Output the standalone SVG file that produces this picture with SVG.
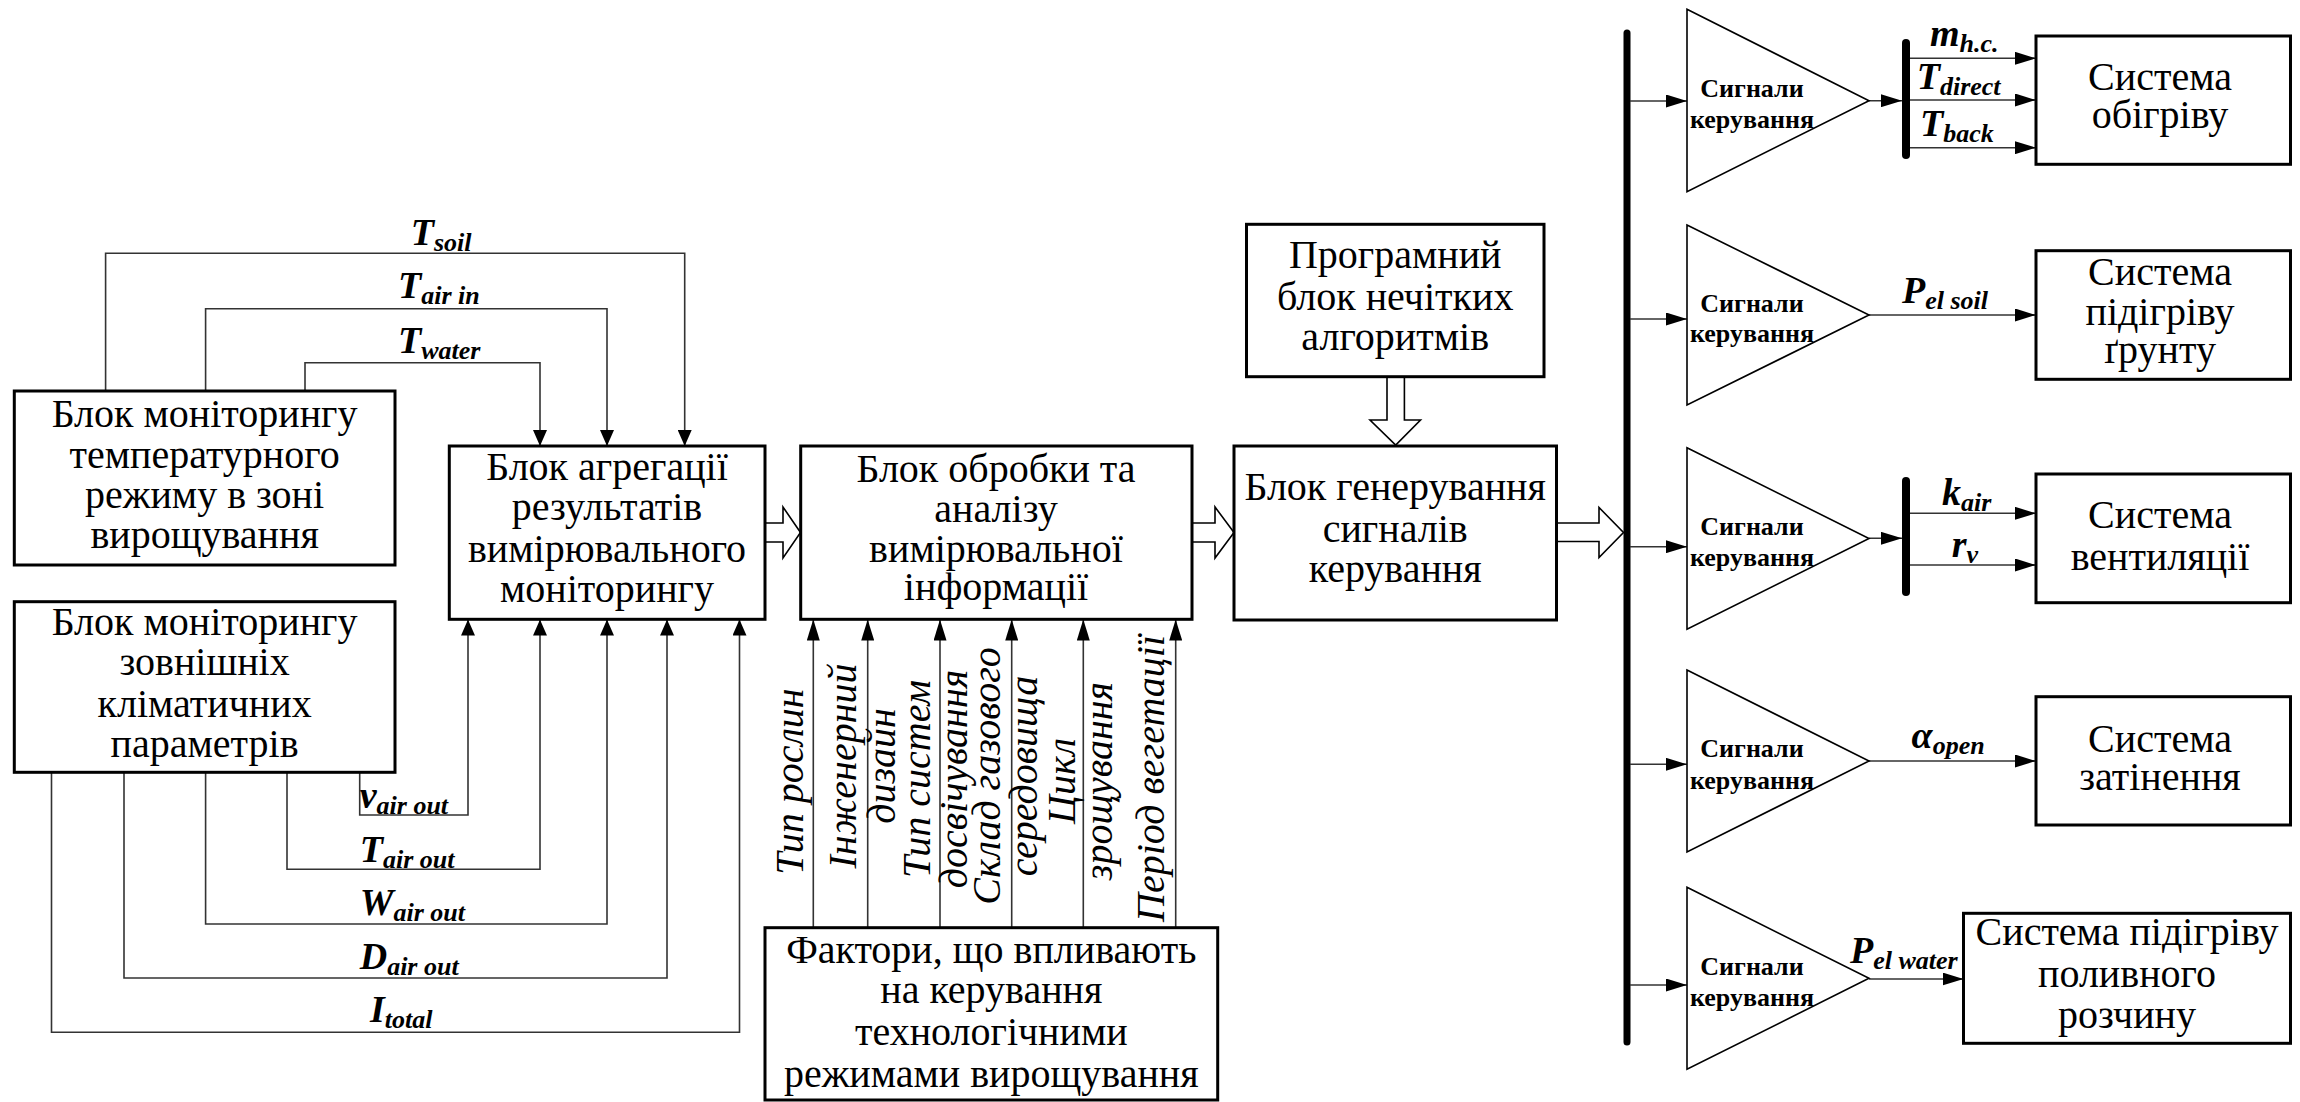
<svg xmlns="http://www.w3.org/2000/svg" width="2300" height="1102" viewBox="0 0 2300 1102" font-family="'Liberation Serif', Tinos, 'Times New Roman', 'DejaVu Serif', serif">
  <style>
    text { font-family: 'Liberation Serif', Tinos, 'Times New Roman', 'DejaVu Serif', serif; }
    .box { fill: #fff; stroke: #000; stroke-width: 3; }
    .t { font-size: 40px; fill: #000; text-anchor: middle; }
    .vi { font-size: 40px; font-style: italic; fill: #000; text-anchor: middle; }
    .m { font-size: 38px; font-style: italic; font-weight: bold; fill: #000; }
    .s { font-size: 26px; }
    .sig { font-size: 26px; font-weight: bold; fill: #000; text-anchor: middle; }
    .ln { fill: none; stroke: #333; stroke-width: 1.6; }
    .aS { marker-end: url(#arrS); }
    .aR { marker-end: url(#arrR); }
    .tri { fill: #fff; stroke: #000; stroke-width: 1.6; }
    .hollow { fill: #fff; stroke: #000; stroke-width: 1.6; stroke-linejoin: miter; }
    .bus { stroke: #000; stroke-width: 7; stroke-linecap: round; }
  </style>
  <defs>
    <marker id="arrS" markerUnits="userSpaceOnUse" markerWidth="16" markerHeight="14" viewBox="0 0 16 14" refX="16" refY="7" orient="auto">
      <path d="M0,0 L16,7 L0,14 z" fill="#000"/>
    </marker>
    <marker id="arrR" markerUnits="userSpaceOnUse" markerWidth="21" markerHeight="13" viewBox="0 0 21 13" refX="21" refY="6.5" orient="auto">
      <path d="M0,0 L21,6.5 L0,13 z" fill="#000"/>
    </marker>
  </defs>

  <!-- connectors -->
  <g id="connectors">
    <!-- temperature monitoring outputs -->
    <polyline class="ln aS" points="105.6,391 105.6,253.3 684.7,253.3 684.7,446"/>
    <polyline class="ln aS" points="205.6,391 205.6,308.7 607,308.7 607,446"/>
    <polyline class="ln aS" points="305,391 305,362.7 540,362.7 540,446"/>
    <!-- external climate outputs -->
    <polyline class="ln aS" points="359.7,772 359.7,815 468,815 468,619.5"/>
    <polyline class="ln aS" points="287,772 287,869.3 540,869.3 540,619.5"/>
    <polyline class="ln aS" points="205.6,772 205.6,924 607,924 607,619.5"/>
    <polyline class="ln aS" points="124,772 124,978 667,978 667,619.5"/>
    <polyline class="ln aS" points="51.5,772 51.5,1032.3 739.5,1032.3 739.5,619.5"/>
    <!-- factors into processing block -->
    <line class="ln aR" x1="813.3" y1="928" x2="813.3" y2="619.5"/>
    <line class="ln aR" x1="867.7" y1="928" x2="867.7" y2="619.5"/>
    <line class="ln aR" x1="940" y1="928" x2="940" y2="619.5"/>
    <line class="ln aR" x1="1011.7" y1="928" x2="1011.7" y2="619.5"/>
    <line class="ln aR" x1="1083.3" y1="928" x2="1083.3" y2="619.5"/>
    <line class="ln aR" x1="1175.7" y1="928" x2="1175.7" y2="619.5"/>
    <!-- hollow block arrows -->
    <polygon class="hollow" points="765,523 783,523 783,507 800.5,532.5 783,558 783,542 765,542"/>
    <polygon class="hollow" points="1192,523 1215,523 1215,507 1234,532.5 1215,558 1215,542 1192,542"/>
    <polygon class="hollow" points="1556.5,523 1599,523 1599,507.5 1623.5,532.5 1599,557.5 1599,541.5 1556.5,541.5"/>
    <polygon class="hollow" points="1387,377 1404.4,377 1404.4,420 1420.5,420 1395.7,445 1370,420 1387,420"/>
    <!-- main signal bus -->
    <line class="bus" x1="1627" y1="33" x2="1627" y2="1042"/>
    <!-- bus to amplifiers -->
    <line class="ln aR" x1="1630" y1="101" x2="1687" y2="101"/>
    <line class="ln aR" x1="1630" y1="319" x2="1687" y2="319"/>
    <line class="ln aR" x1="1630" y1="546.7" x2="1687" y2="546.7"/>
    <line class="ln aR" x1="1630" y1="764.3" x2="1687" y2="764.3"/>
    <line class="ln aR" x1="1630" y1="985" x2="1687" y2="985"/>
    <!-- amplifier outputs -->
    <line class="ln aR" x1="1869" y1="100.7" x2="1902" y2="100.7"/>
    <line class="bus" x1="1906" y1="43" x2="1906" y2="155" style="stroke-width:8"/>
    <line class="ln aR" x1="1910" y1="58.3" x2="2036" y2="58.3"/>
    <line class="ln aR" x1="1910" y1="100" x2="2036" y2="100"/>
    <line class="ln aR" x1="1910" y1="147.7" x2="2036" y2="147.7"/>
    <line class="ln aR" x1="1869" y1="315" x2="2036" y2="315"/>
    <line class="ln aR" x1="1869" y1="538.3" x2="1902" y2="538.3"/>
    <line class="bus" x1="1906" y1="481" x2="1906" y2="592" style="stroke-width:8"/>
    <line class="ln aR" x1="1910" y1="513.3" x2="2036" y2="513.3"/>
    <line class="ln aR" x1="1910" y1="565" x2="2036" y2="565"/>
    <line class="ln aR" x1="1869" y1="761" x2="2036" y2="761"/>
    <line class="ln aR" x1="1869" y1="979" x2="1963.5" y2="979"/>
  </g>

  <!-- signal labels -->
  <g id="signal-labels">
    <text class="m" x="410.7" y="245">T<tspan class="s" dy="6">soil</tspan></text>
    <text class="m" x="398" y="298.3">T<tspan class="s" dy="6">air in</tspan></text>
    <text class="m" x="398" y="353.3">T<tspan class="s" dy="6">water</tspan></text>
    <text class="m" x="359.7" y="808">v<tspan class="s" dy="6">air out</tspan></text>
    <text class="m" x="359.7" y="862">T<tspan class="s" dy="6">air out</tspan></text>
    <text class="m" x="359.7" y="915">W<tspan class="s" dy="6">air out</tspan></text>
    <text class="m" x="359.7" y="969">D<tspan class="s" dy="6">air out</tspan></text>
    <text class="m" x="370" y="1022">I<tspan class="s" dy="6">total</tspan></text>
    <text class="m" x="1930" y="46">m<tspan class="s" dy="6">h.c.</tspan></text>
    <text class="m" x="1916.7" y="89">T<tspan class="s" dy="6">direct</tspan></text>
    <text class="m" x="1920" y="136">T<tspan class="s" dy="6">back</tspan></text>
    <text class="m" x="1902" y="303">P<tspan class="s" dy="6">el soil</tspan></text>
    <text class="m" x="1942" y="505">k<tspan class="s" dy="6">air</tspan></text>
    <text class="m" x="1951.7" y="557">r<tspan class="s" dy="6">v</tspan></text>
    <text class="m" x="1911.6" y="748">α<tspan class="s" dy="6">open</tspan></text>
    <text class="m" x="1850" y="963">P<tspan class="s" dy="6">el water</tspan></text>
  </g>

  <!-- factor labels (vertical) -->
  <g id="factor-labels">
    <text class="vi" transform="translate(803,781.5) rotate(-90)">Тип рослин</text>
    <text class="vi" transform="translate(856,766) rotate(-90)">Інженерний</text>
    <text class="vi" transform="translate(895,766) rotate(-90)">дизайн</text>
    <text class="vi" transform="translate(930,779) rotate(-90)">Тип систем</text>
    <text class="vi" transform="translate(967,779) rotate(-90)">досвічування</text>
    <text class="vi" transform="translate(1000,776) rotate(-90)">Склад газового</text>
    <text class="vi" transform="translate(1037,776) rotate(-90)">середовища</text>
    <text class="vi" transform="translate(1075,781) rotate(-90)">Цикл</text>
    <text class="vi" transform="translate(1112,781) rotate(-90)">зрощування</text>
    <text class="vi" transform="translate(1164,778.5) rotate(-90)">Період вегетації</text>
  </g>

  <g id="temp-monitoring">
    <rect class="box" x="14.3" y="391" width="380.7" height="174"/>
    <text class="t" x="204.6" y="426.7">Блок моніторингу</text>
    <text class="t" x="204.6" y="468">температурного</text>
    <text class="t" x="204.6" y="508">режиму в зоні</text>
    <text class="t" x="204.6" y="548">вирощування</text>
  </g>
  <g id="external-monitoring">
    <rect class="box" x="14.3" y="601.7" width="380.7" height="170.6"/>
    <text class="t" x="204.6" y="635">Блок моніторингу</text>
    <text class="t" x="204.6" y="675">зовнішніх</text>
    <text class="t" x="204.6" y="716.7">кліматичних</text>
    <text class="t" x="204.6" y="756.7">параметрів</text>
  </g>
  <g id="aggregation">
    <rect class="box" x="449.3" y="446" width="315.7" height="173.3"/>
    <text class="t" x="607" y="480">Блок агрегації</text>
    <text class="t" x="607" y="520">результатів</text>
    <text class="t" x="607" y="561.7">вимірювального</text>
    <text class="t" x="607" y="601.7">моніторингу</text>
  </g>
  <g id="processing">
    <rect class="box" x="800.7" y="446" width="391.3" height="173.3"/>
    <text class="t" x="996" y="481.7">Блок обробки та</text>
    <text class="t" x="996" y="521.7">аналізу</text>
    <text class="t" x="996" y="561.7">вимірювальної</text>
    <text class="t" x="996" y="600">інформації</text>
  </g>
  <g id="fuzzy-program">
    <rect class="box" x="1246.5" y="224.3" width="297.5" height="152.4"/>
    <text class="t" x="1395.2" y="268">Програмний</text>
    <text class="t" x="1395.2" y="310">блок нечітких</text>
    <text class="t" x="1395.2" y="350">алгоритмів</text>
  </g>
  <g id="signal-generator">
    <rect class="box" x="1234" y="446" width="322.5" height="174"/>
    <text class="t" x="1395.2" y="500">Блок генерування</text>
    <text class="t" x="1395.2" y="541.7">сигналів</text>
    <text class="t" x="1395.2" y="581.7">керування</text>
  </g>
  <g id="factors">
    <rect class="box" x="765" y="927.7" width="452.7" height="172.3"/>
    <text class="t" x="991.3" y="963">Фактори, що впливають</text>
    <text class="t" x="991.3" y="1003">на керування</text>
    <text class="t" x="991.3" y="1045">технологічними</text>
    <text class="t" x="991.3" y="1087">режимами вирощування</text>
  </g>

  <g id="amp-heating">
    <polygon class="tri" points="1687,9.3 1869,100.7 1687,191.7"/>
    <text class="sig" x="1752" y="96.7">Сигнали</text>
    <text class="sig" x="1752" y="128.3">керування</text>
  </g>
  <g id="amp-soil">
    <polygon class="tri" points="1687,225 1869,315 1687,405"/>
    <text class="sig" x="1752" y="311.5">Сигнали</text>
    <text class="sig" x="1752" y="342">керування</text>
  </g>
  <g id="amp-ventilation">
    <polygon class="tri" points="1687,447.7 1869,538.5 1687,629.3"/>
    <text class="sig" x="1752" y="534.5">Сигнали</text>
    <text class="sig" x="1752" y="566">керування</text>
  </g>
  <g id="amp-shading">
    <polygon class="tri" points="1687,670 1869,761 1687,852"/>
    <text class="sig" x="1752" y="757">Сигнали</text>
    <text class="sig" x="1752" y="788.5">керування</text>
  </g>
  <g id="amp-irrigation">
    <polygon class="tri" points="1687,887.3 1869,978.3 1687,1069.3"/>
    <text class="sig" x="1752" y="974.5">Сигнали</text>
    <text class="sig" x="1752" y="1006">керування</text>
  </g>

  <g id="heating-system">
    <rect class="box" x="2036" y="36" width="254.5" height="128.3"/>
    <text class="t" x="2160" y="90">Система</text>
    <text class="t" x="2160" y="128.3">обігріву</text>
  </g>
  <g id="soil-heating-system">
    <rect class="box" x="2036" y="250.7" width="254.5" height="128.6"/>
    <text class="t" x="2160" y="285">Система</text>
    <text class="t" x="2160" y="325">підігріву</text>
    <text class="t" x="2160" y="363">ґрунту</text>
  </g>
  <g id="ventilation-system">
    <rect class="box" x="2036" y="474" width="254.5" height="128.7"/>
    <text class="t" x="2160" y="528">Система</text>
    <text class="t" x="2160" y="570">вентиляції</text>
  </g>
  <g id="shading-system">
    <rect class="box" x="2036" y="696.7" width="254.5" height="128.3"/>
    <text class="t" x="2160" y="751.7">Система</text>
    <text class="t" x="2160" y="790">затінення</text>
  </g>
  <g id="irrigation-heating-system">
    <rect class="box" x="1963.5" y="913.3" width="327" height="130"/>
    <text class="t" x="2127" y="945">Система підігріву</text>
    <text class="t" x="2127" y="986.7">поливного</text>
    <text class="t" x="2127" y="1028">розчину</text>
  </g>
</svg>
